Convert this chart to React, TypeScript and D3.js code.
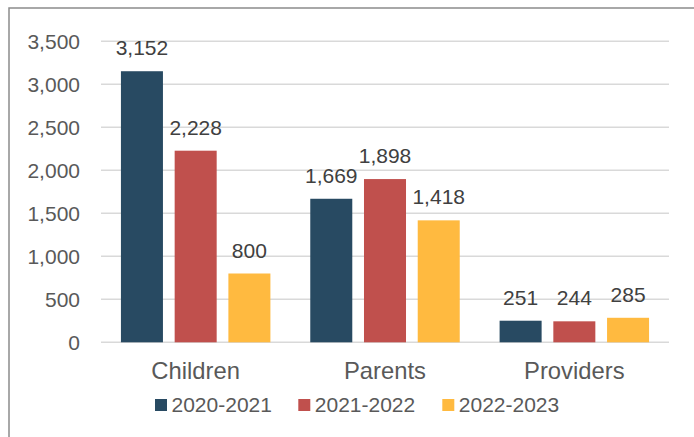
import React from "react";
import * as d3 from "d3";

const categories = ["Children", "Parents", "Providers"];
const seriesNames = ["2020-2021", "2021-2022", "2022-2023"];
const values2020 = [3152, 1669, 251];
const values2021 = [2228, 1898, 244];
const values2022 = [800, 1418, 285];
const yTicks = [0, 500, 1000, 1500, 2000, 2500, 3000, 3500];
const colors = ["#284A62", "#C0504D", "#FFBA40"];

export default function App() {
  const W = 694, H = 437;
  const left = 101, right = 669, top = 41.3, bottom = 342.3;
  const series = [values2020, values2021, values2022];
  const x = d3.scaleBand().domain(categories).range([left, right]).paddingInner(0).paddingOuter(0);
  const x1 = d3.scaleBand().domain(seriesNames).range([0, x.bandwidth()]).paddingInner(0.218).paddingOuter(0.371);
  const y = d3.scaleLinear().domain([0, 3500]).range([bottom, top]);
  const fmt = d3.format(",");
  const font = "'Liberation Sans', Arial, sans-serif";
  const fs = 21;
  const catFs = 23.8;
  const txt = "#595959";
  const legendX = [155, 298.3, 442.3];
  return (
    <svg width={W} height={H} style={{ position: "absolute", left: 0, top: 0 }}>
      <rect x={0} y={0} width={W} height={H} fill="#fff" />
      <rect x={9} y={8} width={W + 20} height={H + 20} fill="none" stroke="#8c8c8c" strokeWidth={1.5} />
      {yTicks.map((t) => (
        <g key={t}>
          <line x1={left} x2={right} y1={y(t)} y2={y(t)} stroke="#D9D9D9" strokeWidth={1.5} />
          <text x={80} y={y(t) + 7.5} textAnchor="end" fontFamily={font} fontSize={fs} fill={txt}>
            {fmt(t)}
          </text>
        </g>
      ))}
      {categories.map((c, ci) => (
        <g key={c}>
          {series.map((s, si) => {
            const bx = (x(c) as number) + (x1(seriesNames[si]) as number);
            const bw = x1.bandwidth();
            return (
              <g key={si}>
                <rect x={bx} y={y(s[ci])} width={bw} height={bottom - y(s[ci])} fill={colors[si]} />
                <text x={bx + bw / 2} y={y(s[ci]) - 16} textAnchor="middle" fontFamily={font} fontSize={fs} fill="#404040">
                  {fmt(s[ci])}
                </text>
              </g>
            );
          })}
          <text x={(x(c) as number) + x.bandwidth() / 2} y={378.5} textAnchor="middle" fontFamily={font} fontSize={catFs} fill={txt}>
            {c}
          </text>
        </g>
      ))}
      {seriesNames.map((n, i) => (
        <g key={n}>
          <rect x={legendX[i]} y={399} width={12} height={12} fill={colors[i]} />
          <text x={legendX[i] + 16.5} y={411.5} fontFamily={font} fontSize={fs} fill={txt}>
            {n}
          </text>
        </g>
      ))}
    </svg>
  );
}
